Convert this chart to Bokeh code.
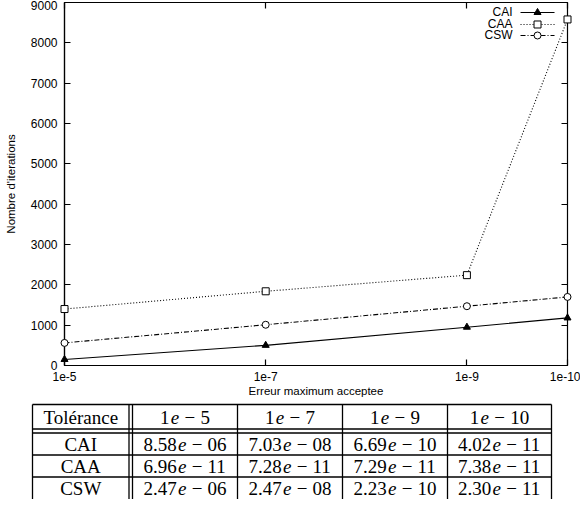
from bokeh.plotting import figure
from bokeh.models import (Range1d, LogAxis, LinearAxis, FixedTicker, Label,
                          CustomJSTickFormatter)
from bokeh.layouts import column
from bokeh.embed import file_html
from bokeh.resources import INLINE
from bokeh.core.properties import value

# ---------------- data ----------------
tolerances = [1e-5, 1e-7, 1e-9, 1e-10]
tol_labels = ["1e-5", "1e-7", "1e-9", "1e-10"]
cai_iter = [150, 500, 950, 1180]
caa_iter = [1400, 1840, 2240, 8580]
csw_iter = [560, 1010, 1470, 1700]
y_ticks = [0, 1000, 2000, 3000, 4000, 5000, 6000, 7000, 8000, 9000]
series_names = ["CAI", "CAA", "CSW"]

table_corner = "Tolérance"
table_head_mant = ["1", "1", "1", "1"]
table_head_exp = ["5", "7", "9", "10"]
cai_err_mant = ["8.58", "7.03", "6.69", "4.02"]
cai_err_exp = ["06", "08", "10", "11"]
caa_err_mant = ["6.96", "7.28", "7.29", "7.38"]
caa_err_exp = ["11", "11", "11", "11"]
csw_err_mant = ["2.47", "2.47", "2.23", "2.30"]
csw_err_exp = ["06", "08", "10", "11"]

SANS = "Liberation Sans"
SERIF = "Liberation Serif"

BL, BR = 64, 13   # side borders shared by both figures
W = 580

# ---------------- plot ----------------
p = figure(width=W, height=399, x_axis_type="log",
           x_range=Range1d(1e-5, 1e-10), y_range=Range1d(0, 9000),
           output_backend="svg", toolbar_location=None,
           min_border_left=BL, min_border_right=BR, min_border_top=2,
           min_border_bottom=34)
p.grid.visible = False
p.outline_line_color = "black"
p.outline_line_width = 1.2
p.background_fill_color = "white"
p.border_fill_color = "white"

fmt = CustomJSTickFormatter(args=dict(tol_vals=tolerances, tol_labs=tol_labels), code="""
let best = 0, bd = 1e9;
for (let i = 0; i < tol_vals.length; i++) {
  const d = Math.abs(Math.log10(tol_vals[i]) - Math.log10(tick));
  if (d < bd) { bd = d; best = i; }
}
return tol_labs[best];
""")

def style_axis(ax, show_labels=True):
    ax.major_tick_in = 6
    ax.major_tick_out = 0
    ax.minor_tick_line_color = None
    ax.major_tick_line_color = "black"
    ax.major_tick_line_width = 1.2
    ax.axis_line_color = "black"
    ax.axis_line_width = 1.2
    ax.major_label_text_font = SANS
    ax.major_label_text_font_size = "12px" if show_labels else "1px"
    ax.major_label_text_color = "black" if show_labels else None
    ax.axis_label_text_font = SANS
    ax.axis_label_text_font_size = "11.5px"
    ax.axis_label_text_font_style = "normal"
    ax.axis_label_text_color = "black"

xa = p.xaxis[0]
xa.ticker = FixedTicker(ticks=tolerances)
xa.formatter = fmt
style_axis(xa)
xa.major_label_standoff = 6
xa.axis_label = "Erreur maximum acceptee"
xa.axis_label_standoff = 1

ya = p.yaxis[0]
ya.ticker = FixedTicker(ticks=y_ticks)
style_axis(ya)
ya.major_label_standoff = 7
ya.axis_label = "Nombre d'iterations"
ya.axis_label_standoff = 11

top = LogAxis(ticker=FixedTicker(ticks=tolerances))
style_axis(top, show_labels=False)
top.major_label_standoff = 0
top.axis_line_color = None
p.add_layout(top, "above")

right = LinearAxis(ticker=FixedTicker(ticks=y_ticks))
style_axis(right, show_labels=False)
right.major_label_standoff = 0
right.axis_line_color = None
p.add_layout(right, "right")

styles = [
    dict(dash="solid", marker="triangle", fill="black", size=7),
    dict(dash="1 2", marker="square", fill="white", size=7),
    dict(dash="5 2 1 2", marker="circle", fill="white", size=7),
]
series = [cai_iter, caa_iter, csw_iter]
for vals, st in zip(series, styles):
    p.line(tolerances, vals, line_color="black", line_width=1.1, line_dash=st["dash"])
    r = p.scatter(tolerances, vals, marker=st["marker"], size=st["size"],
                  fill_color=st["fill"], line_color="black", line_width=1)
    r.level = "overlay"

# legend (gnuplot style: text right-aligned, sample to its right)
def fx(f):
    return 10 ** (-5 - 5 * f)

def fy(f):
    return 9000 * (1 - f)

leg_rows = [0.0275, 0.0606, 0.0909]
for name, st, fr in zip(series_names, styles, leg_rows):
    p.add_layout(Label(x=fx(0.8907), y=fy(fr), text=name, text_align="right",
                       text_baseline="middle", text_font=SANS,
                       text_font_size="12px", text_color="black"))
    p.line([fx(0.9066), fx(0.9742)], [fy(fr), fy(fr)], line_color="black",
           line_width=1.1, line_dash=st["dash"])
    p.scatter([fx(0.9404)], [fy(fr)], marker=st["marker"], size=st["size"],
              fill_color=st["fill"], line_color="black", line_width=1)

# ---------------- table ----------------
# canvas-pixel coordinates: the frame spans BL..W-BR, glyphs drawn on the
# overlay level so they may extend into the side borders.
TH = 100
t = figure(width=W, height=TH, x_range=Range1d(BL, W - BR), y_range=Range1d(TH, 0),
           output_backend="svg", toolbar_location=None,
           min_border_left=BL, min_border_right=BR, min_border_top=0, min_border_bottom=0,
           x_axis_location=None, y_axis_location=None)
t.grid.visible = False
t.outline_line_color = None

col_edges = [32, 132, 237, 342, 447, 551]
dbl_v = 128.5
row_top = 5
hdr_lines = [29.5, 33.5]
row_lines = [55.5, 77.5]
LW = 1.3

h_y = [row_top] + hdr_lines + row_lines
r1 = t.segment(x0=[col_edges[0]] * len(h_y), x1=[col_edges[-1]] * len(h_y), y0=h_y, y1=h_y,
               line_color="black", line_width=LW)
v_x = [col_edges[0], dbl_v] + col_edges[1:]
r2 = t.segment(x0=v_x, x1=v_x, y0=[row_top] * len(v_x), y1=[TH] * len(v_x),
               line_color="black", line_width=LW)

FS = 19
row_centers = [17.5, 44.5, 66.5, 88.5]
first_cx = (col_edges[0] + dbl_v) / 2
r3 = t.text(x=[first_cx] * 4, y=row_centers, text=[table_corner] + series_names,
            text_font=value(SERIF), text_font_size=f"{FS}px", text_align="center",
            text_baseline="middle", text_color="black")

def cw(s):
    w = 0.0
    for ch in s:
        w += 0.25 if ch == "." else 0.5
    return w * FS

rows_m = [table_head_mant, cai_err_mant, caa_err_mant, csw_err_mant]
rows_e = [table_head_exp, cai_err_exp, caa_err_exp, csw_err_exp]
mx, my, mt, ex_x, ex_y, xx, xy, xt, mi_x, mi_y = [], [], [], [], [], [], [], [], [], []
for ri, (rm, re_) in enumerate(zip(rows_m, rows_e)):
    for ci in range(4):
        cx = (col_edges[ci + 1] + col_edges[ci + 2]) / 2
        wm = cw(rm[ci])
        pre = 0.06 * FS
        we = 0.46 * FS
        gap = 0.26 * FS
        wmin = 0.58 * FS
        wx = cw(re_[ci])
        total = wm + pre + we + gap + wmin + gap + wx
        left = cx - total / 2
        yy = row_centers[ri]
        mx.append(left); my.append(yy); mt.append(rm[ci])
        ex_x.append(left + wm + pre); ex_y.append(yy)
        mi_x.append(left + wm + pre + we + gap + wmin / 2); mi_y.append(yy)
        xx.append(left + wm + pre + we + gap + wmin + gap); xy.append(yy); xt.append(re_[ci])

common = dict(text_font=value(SERIF), text_font_size=f"{FS}px", text_baseline="middle",
              text_color="black")
r4 = t.text(x=mx, y=my, text=mt, text_align="left", **common)
r5 = t.text(x=ex_x, y=ex_y, text=["e"] * len(ex_x), text_align="left",
            text_font_style="italic", **common)
r6 = t.text(x=mi_x, y=mi_y, text=["\u2212"] * len(mi_x), text_align="center", **common)
r7 = t.text(x=xx, y=xy, text=xt, text_align="left", **common)
for r in (r1, r2, r3, r4, r5, r6, r7):
    r.level = "overlay"

layout = column(p, t, spacing=0)
open("out.html", "w").write(file_html(layout, INLINE))
